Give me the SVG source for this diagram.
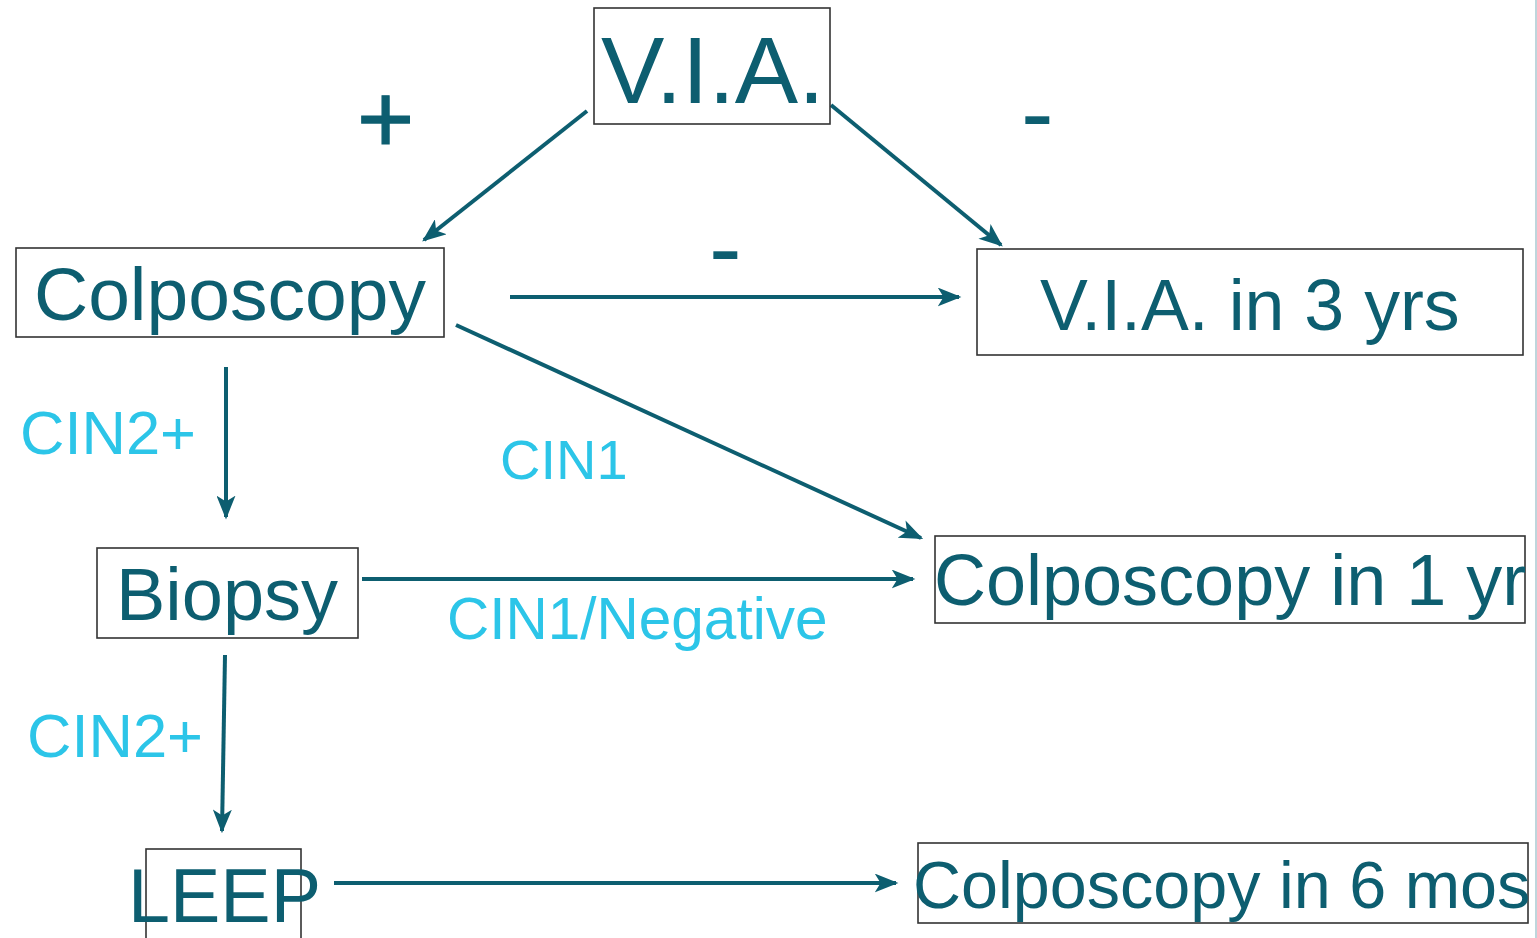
<svg xmlns="http://www.w3.org/2000/svg" width="1537" height="938" viewBox="0 0 1537 938">
<style>
.box{fill:#fff;stroke:#333;stroke-width:1.6}
.t{font-family:"Liberation Sans",Arial,sans-serif;fill:#0D5E70}
.l{font-family:"Liberation Sans",Arial,sans-serif;fill:#2CC5E8}
.c{stroke:#0D5E70;stroke-width:4;fill:none;marker-end:url(#ah)}
</style>
<defs>
<marker id="ah" viewBox="0 0 20 16" refX="18" refY="8" markerWidth="24" markerHeight="19" markerUnits="userSpaceOnUse" orient="auto">
<path d="M0,0 L20,8 L0,16 L5,8 Z" fill="#0D5E70"/>
</marker>
</defs>
<rect width="1537" height="938" fill="#fff"/>
<line x1="1536" y1="0" x2="1536" y2="938" stroke="#A9C9D1" stroke-width="1.5"/>
<g id="connectors">
<line class="c" x1="587" y1="111" x2="424" y2="240"/>
<line class="c" x1="831" y1="105" x2="1001" y2="245"/>
<line class="c" x1="510" y1="297" x2="959" y2="297"/>
<line class="c" x1="456" y1="325" x2="921" y2="538"/>
<line class="c" x1="226" y1="367" x2="226" y2="517"/>
<line class="c" x1="362" y1="579" x2="913" y2="579"/>
<line class="c" x1="225" y1="655" x2="222" y2="831"/>
<line class="c" x1="334" y1="883" x2="896" y2="883"/>
</g>
<g id="labels">
<text class="t" x="357" y="153" font-size="98" stroke="#0D5E70" stroke-width="1.2">+</text>
<text class="t" x="1021" y="146" font-size="98">-</text>
<text class="t" x="709" y="281" font-size="98">-</text>
<text class="l" x="20" y="454" font-size="61.5">CIN2+</text>
<text class="l" x="500" y="479" font-size="56">CIN1</text>
<text class="l" x="447" y="639" font-size="58.5">CIN1/Negative</text>
<text class="l" x="27" y="757" font-size="61.5">CIN2+</text>
</g>
<g id="via">
<rect class="box" x="594" y="8" width="236" height="116"/>
<text class="t" x="601" y="103" font-size="95">V.I.A.</text>
</g>
<g id="colposcopy">
<rect class="box" x="16" y="248" width="428" height="89"/>
<text class="t" x="34" y="320" font-size="75">Colposcopy</text>
</g>
<g id="via3">
<rect class="box" x="977" y="249" width="546" height="106"/>
<text class="t" x="1040" y="330" font-size="71.7">V.I.A. in 3 yrs</text>
</g>
<g id="biopsy">
<rect class="box" x="97" y="548" width="261" height="90"/>
<text class="t" x="116" y="620" font-size="74">Biopsy</text>
</g>
<g id="colp1">
<rect class="box" x="935" y="536" width="590" height="87"/>
<text class="t" x="934" y="605" font-size="72">Colposcopy in 1 yr</text>
</g>
<g id="leep">
<rect class="box" x="146" y="849" width="155" height="100"/>
<text class="t" x="128" y="922" font-size="75.5">LEEP</text>
</g>
<g id="colp6">
<rect class="box" x="918" y="843" width="610" height="80"/>
<text class="t" x="913" y="908" font-size="66.5">Colposcopy in 6 mos</text>
</g>
</svg>
